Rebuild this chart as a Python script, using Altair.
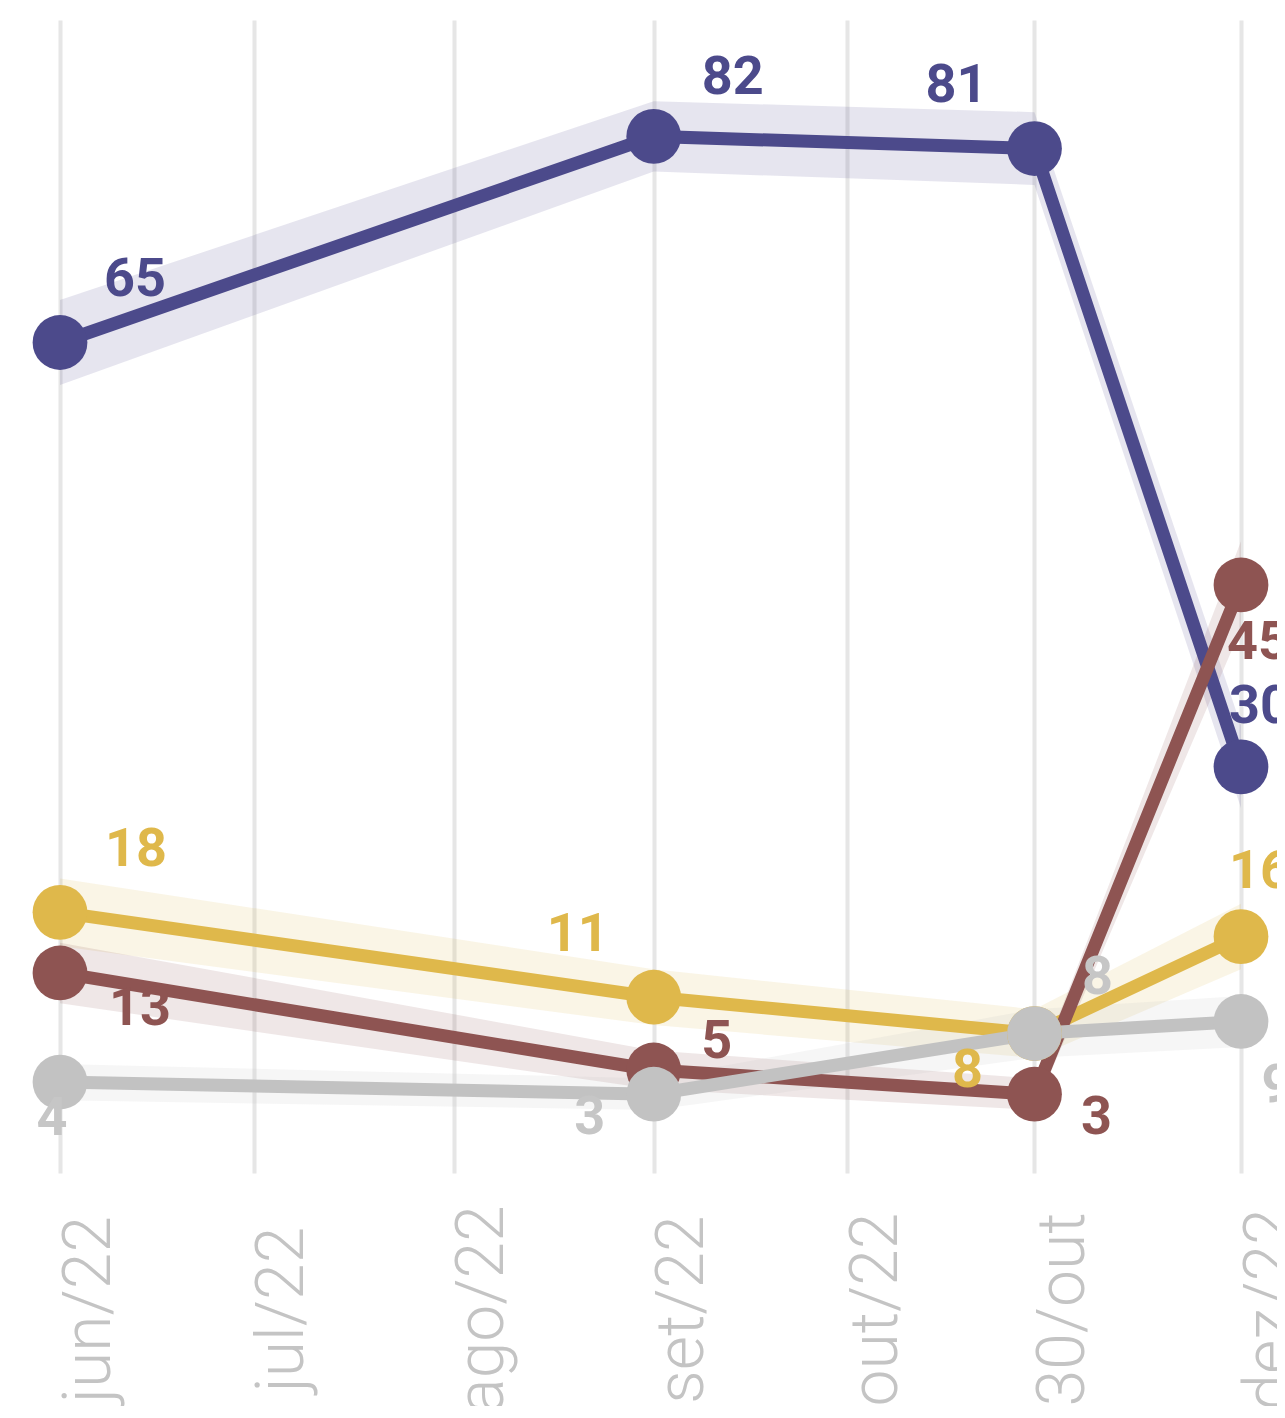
import altair as alt
import pandas as pd

# ---- data ----
dates = ["2022-06-01", "2022-09-01", "2022-10-30", "2022-12-01"]
series = ["roxo", "amarelo", "vinho", "cinza"]

roxo = [65, 82, 81, 30]
amarelo = [18, 11, 8, 16]
vinho = [13, 5, 3, 45]
cinza = [4, 3, 8, 9]

roxo_lo = [61.5, 79.1, 78.0, 26.6]
roxo_hi = [68.5, 84.9, 84.0, 33.4]
amarelo_lo = [15.2, 8.7, 6.0, 13.3]
amarelo_hi = [20.8, 13.3, 10.0, 18.7]
vinho_lo = [10.5, 3.4, 1.7, 41.4]
vinho_hi = [15.5, 6.6, 4.3, 48.6]
cinza_lo = [2.5, 1.7, 6.0, 6.9]
cinza_hi = [5.5, 4.3, 10.0, 11.1]

tick_dates = ["2022-06-01", "2022-07-01", "2022-08-01", "2022-09-01",
              "2022-10-01", "2022-10-30", "2022-12-01"]
tick_labels = ["jun/22", "jul/22", "ago/22", "set/22", "out/22", "30/out", "dez/22"]

# ---- styles ----
COLORS = {"roxo": "#4c4a8b", "amarelo": "#dfb84b", "vinho": "#8e5452", "cinza": "#c2c2c2"}
LABEL_COLORS = {"roxo": "#4c4a8b", "amarelo": "#dfb84b", "vinho": "#8e5452", "cinza": "#c6c6c6"}
LABEL_OFFSETS = {
    "roxo": [(75, -63), (79, -58), (-78, -63), (19, -60)],
    "amarelo": [(76, -62), (-76, -62), (-67, 37), (19, -65)],
    "vinho": [(80, 36), (63, -28), (62, 24), (17, 58)],
    "cinza": [(-8, 37), (-64, 24), (63, -56), (36, 65)],
}

values = {"roxo": roxo, "amarelo": amarelo, "vinho": vinho, "cinza": cinza}
lows = {"roxo": roxo_lo, "amarelo": amarelo_lo, "vinho": vinho_lo, "cinza": cinza_lo}
highs = {"roxo": roxo_hi, "amarelo": amarelo_hi, "vinho": vinho_hi, "cinza": cinza_hi}

rows = []
for s in series:
    for i, d in enumerate(dates):
        dx, dy = LABEL_OFFSETS[s][i]
        rows.append({"serie": s, "data": d, "valor": values[s][i],
                     "lo": lows[s][i], "hi": highs[s][i],
                     "pos": f"{dx}_{dy}"})
df = pd.DataFrame(rows)


def dt(s):
    y, m, d = (int(p) for p in s.split("-"))
    return alt.DateTime(year=y, month=m, date=d, utc=True)


label_expr = "''"
for d, lab in reversed(list(zip(tick_dates, tick_labels))):
    label_expr = f"utcFormat(datum.value, '%Y-%m-%d') == '{d}' ? '{lab}' : ({label_expr})"

x_enc = alt.X(
    "data:T",
    scale=alt.Scale(type="utc", domain=[dt(dates[0]), dt(dates[-1])], nice=False),
    axis=alt.Axis(
        values=[dt(d) for d in tick_dates],
        labelExpr=label_expr,
        title=None,
        grid=True,
        gridColor="#e6e6e6",
        gridWidth=4,
        domain=False,
        ticks=False,
        tickSize=0,
        labelAngle=270,
        labelAlign="center",
        labelBaseline="top",
        labelPadding=136,
        labelOffset=-3,
        labelFont="Roboto",
        labelFontWeight=300,
        labelFontSize=66,
        labelColor="#c4c4c4",
        labelOverlap=False,
        labelFlush=False,
        labelBound=False,
        labelLimit=1000,
    ),
)
y_scale = alt.Scale(domain=[-3.5, 91.6], nice=False, zero=False)

base = alt.Chart(df)

layers = []
# confidence bands
layers.append(
    base.mark_area(opacity=0.14).encode(
        x=x_enc,
        y=alt.Y("lo:Q", scale=y_scale, axis=None),
        y2="hi:Q",
        color=alt.Color("serie:N", scale=alt.Scale(domain=series, range=[COLORS[s] for s in series]), legend=None),
    )
)
# lines
for s in series:
    layers.append(
        base.transform_filter(alt.datum.serie == s).mark_line(color=COLORS[s], strokeWidth=13).encode(
            x=x_enc, y=alt.Y("valor:Q", scale=y_scale, axis=None)
        )
    )
# points
for s in series:
    layers.append(
        base.transform_filter(alt.datum.serie == s).mark_circle(color=COLORS[s], size=3000, opacity=1).encode(
            x=x_enc, y=alt.Y("valor:Q", scale=y_scale, axis=None)
        )
    )
# value labels
for s in series:
    for (dx, dy) in sorted(set(LABEL_OFFSETS[s])):
        key = f"{dx}_{dy}"
        layers.append(
            base.transform_filter((alt.datum.serie == s) & (alt.datum.pos == key)).mark_text(
                dx=dx, dy=dy, font="Roboto", fontWeight="bold", fontSize=54,
                color=LABEL_COLORS[s], align="center", baseline="middle"
            ).encode(
                x=x_enc, y=alt.Y("valor:Q", scale=y_scale, axis=None), text="valor:Q"
            )
        )

chart = alt.layer(*layers).properties(
    width=1181,
    height=1153,
    autosize=alt.AutoSizeParams(type="none"),
    padding={"left": 52, "top": 12, "right": 36, "bottom": 233},
    background="white",
).configure_view(stroke=None)

chart.save("out.html", embed_options={"renderer": "svg", "actions": False})
